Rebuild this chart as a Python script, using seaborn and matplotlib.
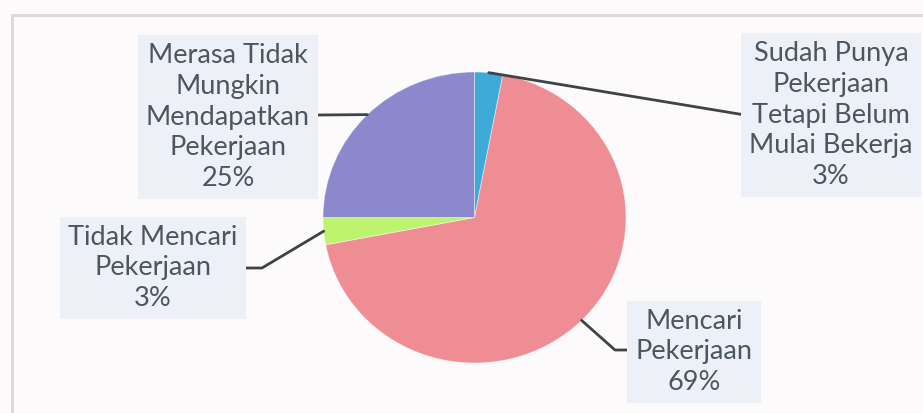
import numpy as np
import matplotlib
matplotlib.use("Agg")
import matplotlib.pyplot as plt
from matplotlib.lines import Line2D
import seaborn as sns


#%% Data
labels      = ["Sudah Punya\nPekerjaan\nTetapi Belum\nMulai Bekerja",
               "Mencari\nPekerjaan",
               "Tidak Mencari\nPekerjaan",
               "Merasa Tidak\nMungkin\nMendapatkan\nPekerjaan"]
values      = [3, 69, 3, 25]
pct_labels  = ["3%", "69%", "3%", "25%"]

palette = sns.color_palette(["#3DAAD8", "#EE8D93", "#BDF36E", "#8C88CD"])


#%% Layout (figure pixels, y from top)
Fig_W, Fig_H = 923, 413

# text block centres
Label_Pos   = [(831, 115), (694, 352), (153, 268), (228, 117)]
# elbow points of the leader lines (None = straight line)
Elbow_Pos   = [None, (615, 350), (262, 268), None]
# end points of the leader lines at the label box
End_Pos     = [(745, 115), (627, 350), (245, 268), (318, 115)]

Pie_Left, Pie_Right, Pie_Top, Pie_Bottom = 323, 626, 72, 363

Text_Color  = "#4C565F"
Box_Color   = "#EDF1F7"
Line_Color  = "#3E4348"
Frame_Color = "#D9D9DE"
Bg_Color    = "#FDFAFC"

FontSize    = 19.5
FontName    = "Lato"

sns.set_theme(style="white")
plt.rcParams["font.family"] = [FontName, "DejaVu Sans"]


def fx(x):
    return x / Fig_W


def fy(y):
    return 1 - y / Fig_H


#%% Figure
Fig = plt.figure(figsize=[Fig_W / 100, Fig_H / 100], dpi=100)
Fig.patch.set_facecolor(Bg_Color)

# chart frame
Fig.add_artist(Line2D([fx(12), fx(Fig_W + 5)], [fy(15), fy(15)],
                      color=Frame_Color, lw=2.2, transform=Fig.transFigure))
Fig.add_artist(Line2D([fx(12), fx(12)], [fy(15), fy(Fig_H + 5)],
                      color=Frame_Color, lw=2.2, transform=Fig.transFigure))

ax = Fig.add_axes([fx(Pie_Left), fy(Pie_Bottom),
                   (Pie_Right - Pie_Left) / Fig_W, (Pie_Bottom - Pie_Top) / Fig_H])

wedges, _ = ax.pie(values,
                   colors=palette,
                   startangle=90,
                   counterclock=False,
                   radius=1,
                   wedgeprops=dict(linewidth=0.6, edgecolor=(1, 1, 1, 0.5)))

ax.set_xlim(-1, 1)
ax.set_ylim(-1, 1)
ax.set_aspect("auto")
ax.axis("off")

to_fig = Fig.transFigure.inverted()

for i, w in enumerate(wedges):

    # label text
    x, y = Label_Pos[i]
    Fig.text(fx(x), fy(y), labels[i] + "\n" + pct_labels[i],
             ha="center", va="center", multialignment="center",
             fontsize=FontSize, color=Text_Color, linespacing=1.29,
             bbox=dict(boxstyle="square,pad=0.3", facecolor=Box_Color, edgecolor="none"))

    # leader line from the wedge's mid angle
    theta = np.deg2rad((w.theta1 + w.theta2) / 2)
    anchor = ax.transData.transform((np.cos(theta), np.sin(theta)))
    ax_, ay_ = to_fig.transform(anchor)

    pts = [(ax_, ay_)]
    if Elbow_Pos[i] is not None:
        pts.append((fx(Elbow_Pos[i][0]), fy(Elbow_Pos[i][1])))
    pts.append((fx(End_Pos[i][0]), fy(End_Pos[i][1])))

    Fig.add_artist(Line2D([p[0] for p in pts], [p[1] for p in pts],
                          color=Line_Color, lw=2, solid_capstyle="round",
                          solid_joinstyle="round", transform=Fig.transFigure))

plt.savefig("out.png", dpi=100, facecolor=Bg_Color)
